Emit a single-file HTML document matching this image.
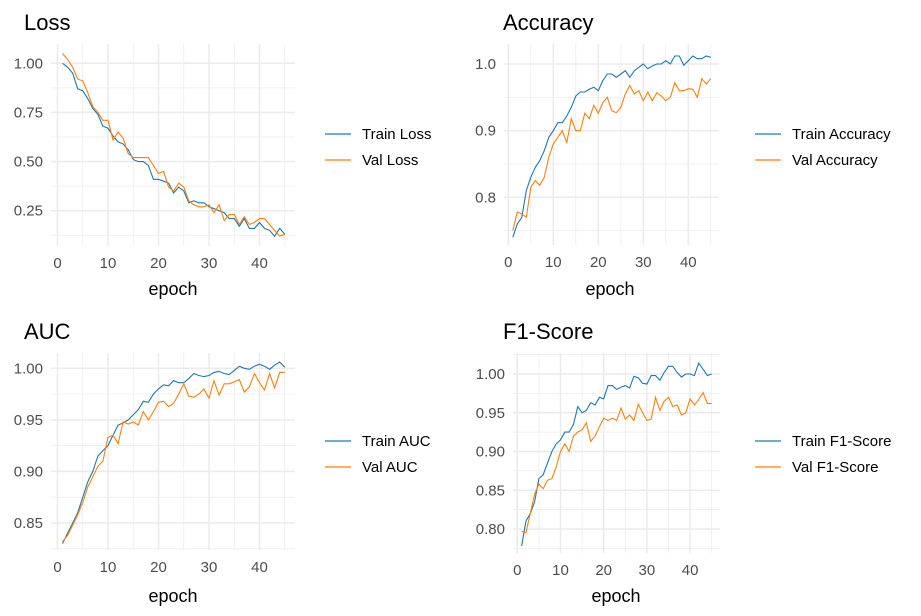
<!DOCTYPE html>
<html><head><meta charset="utf-8"><style>
body{margin:0;background:#fff}
svg{display:block;font-family:"Liberation Sans",Arial,sans-serif}
</style></head><body>
<svg id="c" width="921" height="616" viewBox="0 0 921 616"></svg>
<script>
const epochs = Array.from({length:45},(_,i)=>i+1);
const lossTrain=[1.00,0.98,0.95,0.87,0.86,0.82,0.77,0.74,0.68,0.67,0.63,0.60,0.59,0.56,0.51,0.50,0.50,0.48,0.41,0.41,0.40,0.39,0.34,0.37,0.35,0.29,0.30,0.29,0.29,0.27,0.26,0.25,0.24,0.21,0.21,0.17,0.21,0.16,0.16,0.19,0.16,0.15,0.12,0.16,0.13];
const lossVal=[1.05,1.02,0.98,0.92,0.91,0.85,0.78,0.75,0.71,0.71,0.61,0.65,0.62,0.54,0.52,0.52,0.52,0.52,0.48,0.44,0.45,0.37,0.35,0.39,0.37,0.30,0.28,0.27,0.27,0.28,0.24,0.28,0.20,0.23,0.23,0.18,0.22,0.18,0.19,0.21,0.21,0.18,0.15,0.12,0.13];
const accTrain=[0.74,0.76,0.77,0.81,0.83,0.845,0.855,0.87,0.89,0.90,0.912,0.912,0.922,0.935,0.952,0.958,0.958,0.962,0.965,0.96,0.975,0.985,0.985,0.98,0.985,0.99,0.98,0.99,0.995,1.0,0.993,0.997,1.0,1.0,1.005,1.0,1.012,1.012,0.998,1.005,1.012,1.008,1.008,1.012,1.01];
const accVal=[0.75,0.778,0.775,0.77,0.815,0.825,0.818,0.83,0.86,0.88,0.89,0.90,0.882,0.918,0.90,0.90,0.926,0.918,0.938,0.926,0.942,0.95,0.93,0.927,0.935,0.955,0.968,0.955,0.96,0.945,0.958,0.945,0.957,0.952,0.945,0.95,0.972,0.96,0.96,0.963,0.962,0.95,0.978,0.97,0.978];
const aucTrain=[0.83,0.84,0.85,0.86,0.875,0.89,0.90,0.915,0.92,0.925,0.935,0.945,0.947,0.95,0.955,0.96,0.968,0.967,0.975,0.98,0.984,0.983,0.988,0.986,0.986,0.99,0.995,0.993,0.992,0.993,0.996,0.997,0.995,0.994,0.998,1.002,1.0,0.999,1.002,1.004,1.002,0.999,1.003,1.006,1.001];
const aucVal=[0.832,0.838,0.848,0.858,0.87,0.885,0.895,0.905,0.91,0.933,0.935,0.927,0.948,0.946,0.948,0.945,0.958,0.95,0.958,0.967,0.968,0.963,0.966,0.975,0.985,0.973,0.972,0.975,0.98,0.971,0.988,0.974,0.985,0.985,0.987,0.989,0.977,0.982,0.995,0.986,0.979,0.995,0.981,0.996,0.996];
const f1Train=[0.778,0.81,0.82,0.835,0.865,0.87,0.885,0.90,0.91,0.915,0.925,0.925,0.935,0.958,0.95,0.953,0.963,0.96,0.97,0.968,0.985,0.985,0.98,0.983,0.985,0.982,0.997,0.995,0.988,0.987,0.998,0.998,0.992,1.002,1.01,1.01,1.002,0.996,1.0,1.0,0.998,1.014,1.006,0.998,1.0];
const f1Val=[0.797,0.795,0.82,0.845,0.858,0.852,0.863,0.865,0.88,0.9,0.91,0.90,0.92,0.925,0.928,0.937,0.913,0.92,0.932,0.943,0.94,0.943,0.94,0.956,0.942,0.947,0.94,0.961,0.95,0.94,0.942,0.97,0.953,0.965,0.97,0.958,0.96,0.947,0.95,0.968,0.96,0.967,0.976,0.962,0.962];
const xTicks=[0,10,20,30,40];
const lossTicks=["0.25","0.50","0.75","1.00"];
const accTicks=["0.8","0.9","1.0"];
const aucTicks=["0.85","0.90","0.95","1.00"];
const f1Ticks=["0.80","0.85","0.90","0.95","1.00"];

const svg=document.getElementById('c');
const NS='http://www.w3.org/2000/svg';
function mk(tag,attrs,parent,text){const e=document.createElementNS(NS,tag);for(const k in attrs)e.setAttribute(k,attrs[k]);if(text!==undefined)e.textContent=text;(parent||svg).appendChild(e);return e;}

const panels=[
 {name:'loss',title:'Loss',tx:24,ty:30,L:51,R:295,T:44,B:246,x0:57.5,xs:5.05,v1:1.0,p1:63.3,v2:0.25,p2:210.7,ticks:lossTicks,minor:0.125,tr:lossTrain,va:lossVal,leg:['Train Loss','Val Loss'],lx:325,ly:134,xl:173,xly:295},
 {name:'accuracy',title:'Accuracy',tx:503,ty:30,L:504,R:719,T:44,B:245,x0:508.3,xs:4.5,v1:1.0,p1:64,v2:0.8,p2:197.3,ticks:accTicks,minor:0.05,tr:accTrain,va:accVal,leg:['Train Accuracy','Val Accuracy'],lx:755,ly:134,xl:610,xly:295},
 {name:'auc',title:'AUC',tx:24,ty:339,L:51,R:295,T:353,B:550,x0:57.5,xs:5.05,v1:1.0,p1:368.3,v2:0.85,p2:523,ticks:aucTicks,minor:0.025,tr:aucTrain,va:aucVal,leg:['Train AUC','Val AUC'],lx:325,ly:441,xl:173,xly:602},
 {name:'f1-score',title:'F1-Score',tx:503,ty:339,L:513,R:720,T:353,B:553,x0:517.3,xs:4.32,v1:1.0,p1:374,v2:0.80,p2:529,ticks:f1Ticks,minor:0.025,tr:f1Train,va:f1Val,leg:['Train F1-Score','Val F1-Score'],lx:755,ly:441,xl:616,xly:602}
];
panels.forEach(p=>{
 const g=mk('g',{});
 
 
 const X=v=>p.x0+v*p.xs;
 const Y=v=>p.p1+(v-p.v1)*(p.p2-p.p1)/(p.v2-p.v1);
 // minor y grid
 const vmin=p.v1+(p.B-p.p1)*(p.v2-p.v1)/(p.p2-p.p1), vmax=p.v1+(p.T-p.p1)*(p.v2-p.v1)/(p.p2-p.p1);
 for(let v=Math.ceil(vmin/p.minor)*p.minor;v<=vmax;v+=p.minor){mk('line',{x1:p.L,x2:p.R,y1:Y(v),y2:Y(v),stroke:'#ebebeb','stroke-width':0.7},g);}
 for(let v=5;v<=45;v+=10){mk('line',{x1:X(v),x2:X(v),y1:p.T,y2:p.B,stroke:'#ebebeb','stroke-width':0.7},g);}
 p.ticks.forEach(t=>{const y=Y(parseFloat(t));mk('line',{x1:p.L,x2:p.R,y1:y,y2:y,stroke:'#ebebeb','stroke-width':1.5},g);
  const tx=mk('text',{x:p.L-8,y:y+5,'text-anchor':'end','font-size':15,fill:'#4d4d4d'},g,t);
  });
 xTicks.forEach(t=>{const x=X(t);mk('line',{x1:x,x2:x,y1:p.T,y2:p.B,stroke:'#ebebeb','stroke-width':1.5},g);
  const tx=mk('text',{x:x,y:p.B+22,'text-anchor':'middle','font-size':15,fill:'#4d4d4d'},g,String(t));
  });
 [[p.tr,'#1f77b4','train'],[p.va,'#ff7f0e','val']].forEach(([d,c,n])=>{
  const pl=mk('polyline',{points:d.map((v,i)=>X(epochs[i]).toFixed(1)+','+Y(v).toFixed(1)).join(' '),fill:'none',stroke:c,'stroke-width':1.1},g);
  
 });
 const ti=mk('text',{x:p.tx,y:p.ty,'font-size':22,fill:'#000'},g,p.title);
 
 const xl=mk('text',{x:p.xl,y:p.xly,'text-anchor':'middle','font-size':18,fill:'#000'},g,'epoch');
 
 [[p.leg[0],'#1f77b4',0],[p.leg[1],'#ff7f0e',26]].forEach(([lab,c,dy])=>{
  const lg=mk('g',{},g);
  
  mk('line',{x1:p.lx,x2:p.lx+26,y1:p.ly+dy,y2:p.ly+dy,stroke:c,'stroke-width':1.2},lg);
  mk('text',{x:p.lx+37,y:p.ly+dy+5,'font-size':15,fill:'#000'},lg,lab);
 });
});
</script>
</body></html>
